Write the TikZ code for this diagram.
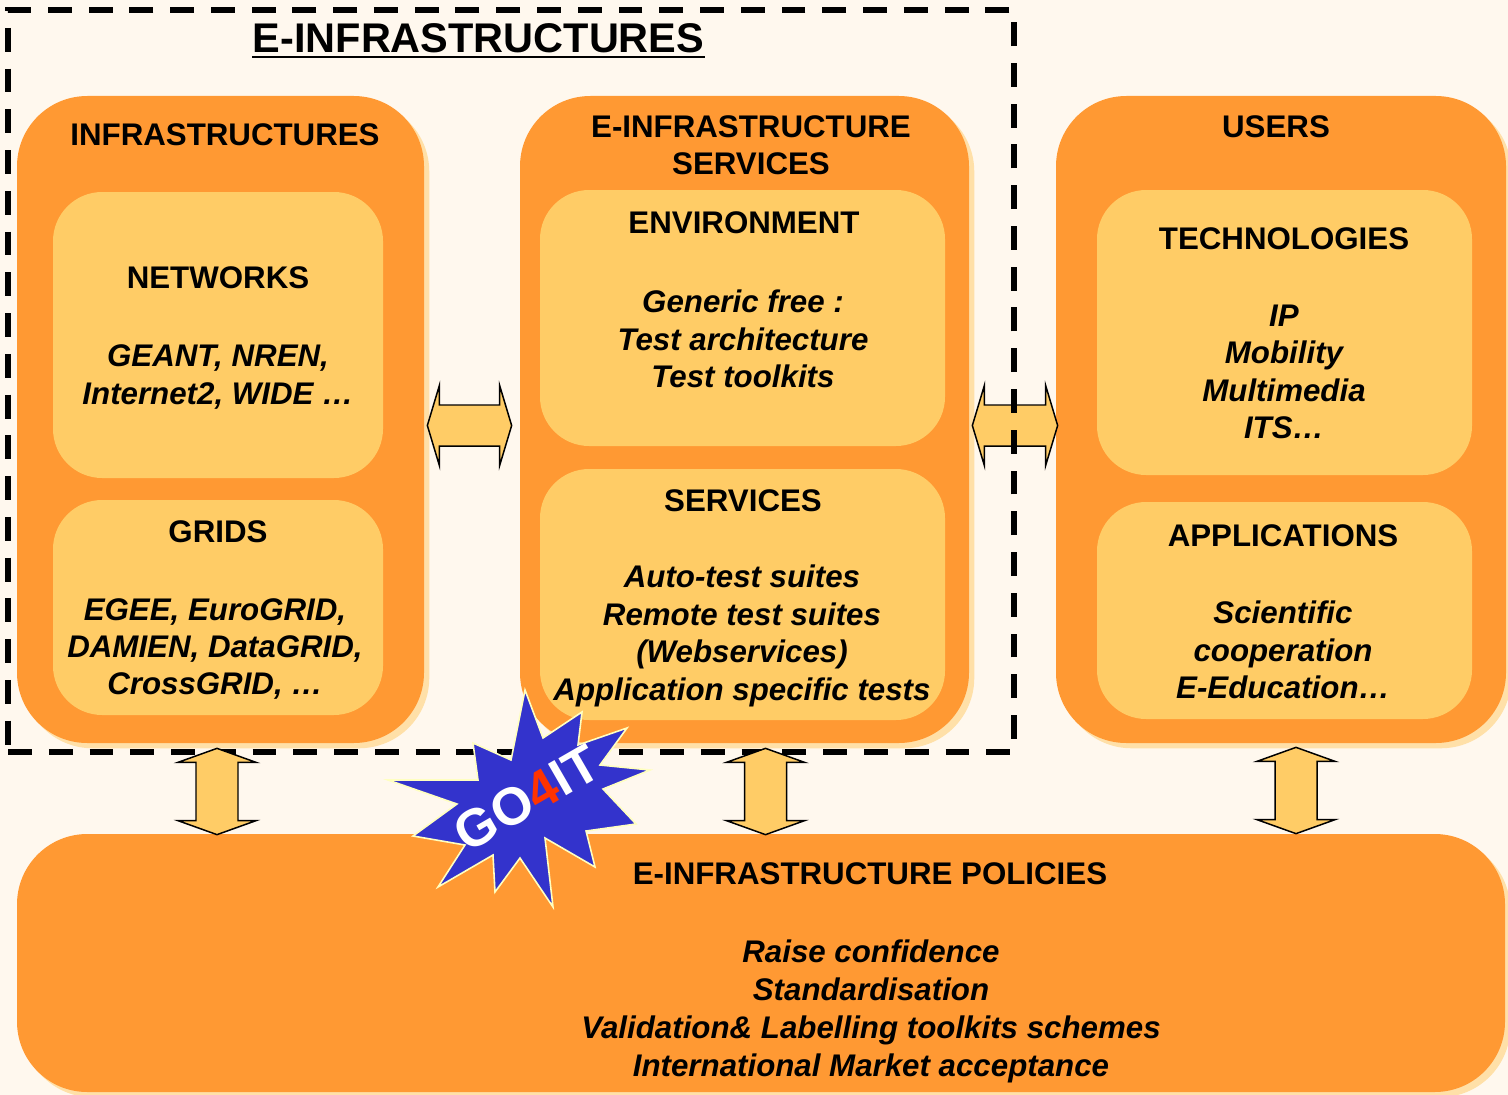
\documentclass[tikz,border=0pt]{standalone}
\usepackage{fontspec}
\setmainfont{Liberation Sans}
\usetikzlibrary{calc,fit,shadows}

\definecolor{bgc}{HTML}{FFF8EE}
\definecolor{orangec}{HTML}{FF9933}
\definecolor{innerc}{HTML}{FFCC66}
\definecolor{shadowc}{HTML}{FFE0A8}
\definecolor{starc}{HTML}{3333CC}
\definecolor{starline}{HTML}{FFFFC0}
\definecolor{fourc}{HTML}{FF3300}

\begin{document}
\begin{tikzpicture}[x=0.02cm, y=-0.02cm,
  outerbox/.style={fill=orangec, rounded corners=40pt, inner sep=0pt,
    drop shadow={fill=shadowc, opacity=1, shadow xshift=3pt, shadow yshift=-3pt}},
  innerbox/.style={fill=innerc, rounded corners=28pt, inner sep=0pt},
  dashbox/.style={draw, line width=3.2pt, dash pattern=on 13.6pt off 9.6pt, inner sep=0pt},
  head/.style={font=\fontsize{17.8pt}{21.3pt}\selectfont\bfseries, align=center, inner sep=0pt},
  item/.style={font=\fontsize{17.8pt}{21.3pt}\selectfont\bfseries\itshape, align=center, inner sep=0pt},
  fatarrow/.style={draw=black, fill=innerc, line width=0.85pt, line join=miter},
  hfat/.style={fatarrow, to path={
    -- ($(\tikztostart)+(12,-40)$) -- ($(\tikztostart)+(12,-20.5)$)
    -- ($(\tikztotarget)+(-12,-20.5)$) -- ($(\tikztotarget)+(-12,-40)$)
    -- (\tikztotarget)
    -- ($(\tikztotarget)+(-12,40)$) -- ($(\tikztotarget)+(-12,20.5)$)
    -- ($(\tikztostart)+(12,20.5)$) -- ($(\tikztostart)+(12,40)$) -- cycle}},
  vfat/.style={fatarrow, to path={
    -- ($(\tikztostart)+(39,14)$) -- ($(\tikztostart)+(21,14)$)
    -- ($(\tikztotarget)+(21,-14)$) -- ($(\tikztotarget)+(39,-14)$)
    -- (\tikztotarget)
    -- ($(\tikztotarget)+(-39,-14)$) -- ($(\tikztotarget)+(-21,-14)$)
    -- ($(\tikztostart)+(-21,14)$) -- ($(\tikztostart)+(-39,14)$) -- cycle}}]

\fill[bgc] (0,0) rectangle (1508,1095);
\useasboundingbox (0,0) rectangle (1508,1095);

% the three columns
\node[outerbox, fit={(17,96) (424,743)}] (infra) {};
\node[outerbox, fit={(520,96) (969,743)}] (serv) {};
\node[outerbox, fit={(1056,96) (1506,743)}] (users) {};
\node[outerbox, fit={(17,834) (1505,1092)}] (policy) {};

\node[innerbox, fit={(53,192) (383,478)}] (netw) {};
\node[innerbox, fit={(53,500) (383,715)}] (grids) {};
\node[innerbox, fit={(540,190) (945,446)}] (env) {};
\node[innerbox, fit={(540,469) (945,720)}] (tests) {};
\node[innerbox, fit={(1097,190) (1472,475)}] (techno) {};
\node[innerbox, fit={(1097,502) (1472,719)}] (appli) {};

% texts
\node[head] (infraT) at (225,135) {INFRASTRUCTURES};
\node[head] (netwT) at (218,278) {NETWORKS};
\node[item] (netwL) at (218,377) {GEANT, NREN,\\Internet2, WIDE …};
\node[head] (gridsT) at (218,532) {GRIDS};
\node[item] (gridsL) at (215,649) {EGEE, EuroGRID,\\DAMIEN, DataGRID,\\CrossGRID, …};

\node[head] (servT) at (751,145) {E-INFRASTRUCTURE\\SERVICES};
\node[head] (envT) at (744,223) {ENVIRONMENT};
\node[item] (envL) at (743,339) {Generic free :\\Test architecture\\Test toolkits};
\node[head] (testsT) at (743,501) {SERVICES};
\node[item] (testsL) at (742,636) {Auto-test suites\\Remote test suites\\(Webservices)\\Application specific tests};

\node[head] (usersT) at (1276,127) {USERS};
\node[head] (technoT) at (1284,239) {TECHNOLOGIES};
\node[item] (technoL) at (1284,372) {IP\\Mobility\\Multimedia\\ITS…};
\node[head] (appliT) at (1283,536) {APPLICATIONS};
\node[item] (appliL) at (1283,650) {Scientific\\cooperation\\E-Education…};

\node[head] (policyT) at (870,874) {E-INFRASTRUCTURE POLICIES};
\node[item, font=\fontsize{17.8pt}{21.6pt}\selectfont\bfseries\itshape] (policyL) at (871,1011)
  {Raise confidence\\Standardisation\\Validation\& Labelling toolkits schemes\\International Market acceptance};

% side arrows
\draw[hfat] ($(infra.east)+(3,6)$) to ($(serv.west)+(-8,6)$);
\draw[hfat] ($(serv.east)+(3,6)$) to ($(users.west)+(2,6)$);

% dashed frame and title
\node[dashbox, fit={(8,10) (1014,752)}] (einfra) {};
\node[anchor=base, inner sep=0pt, font=\fontsize{23.6pt}{28pt}\selectfont\bfseries] (title) at (478.5,53) {E-INFRASTRUCTURES};
\draw[line width=1.1pt] ($(title.base west)+(0,4)$) -- ($(title.base east)+(0,4)$);

% down arrows
\draw[vfat] ($(infra.south)+(-3.5,5)$) to ($(infra.south |- policy.north)+(-3.5,1)$);
\draw[vfat] ($(serv.south)+(21,5)$) to ($(serv.south |- policy.north)+(21,1)$);
\draw[vfat] ($(users.south)+(15,4)$) to ($(users.south |- policy.north)+(15,0)$);

% logo
\draw[fill=starc, draw=starline, line width=0.9pt, line join=miter]
  (525,690) -- (543,738) -- (582,712) -- (578,745) -- (627,728) -- (600,765)
  -- (650,770) -- (603,789) -- (636,824) -- (586,831) -- (595,867) -- (545,838)
  -- (553,907) -- (520,858) -- (495,892) -- (493,855) -- (438,887) -- (465,845)
  -- (413,836) -- (457,804) -- (388,780) -- (478,780) -- (473,743) -- (511,760) -- cycle;
\node[rotate=30, inner sep=0pt, text=white, font=\fontsize{30pt}{32pt}\selectfont\bfseries] (logo) at (527,798) {GO{\color{fourc}4}IT};
\end{tikzpicture}
\end{document}
